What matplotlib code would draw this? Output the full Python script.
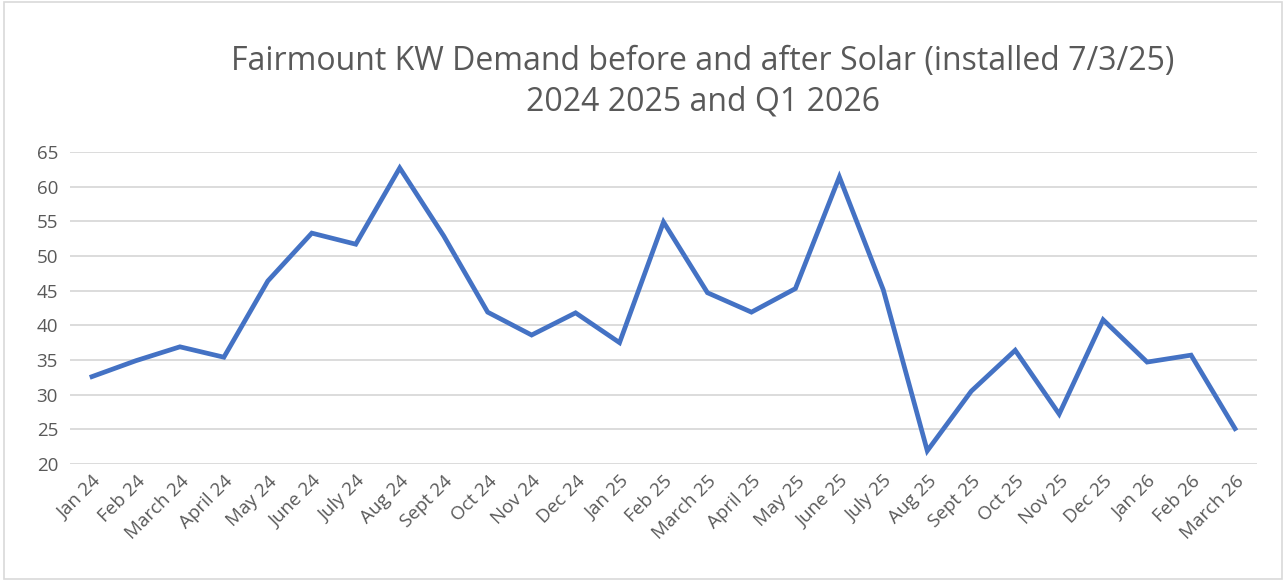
import matplotlib.pyplot as plt
from matplotlib.patches import Rectangle

# Monthly KW demand values
months = ['Jan 24', 'Feb 24', 'March 24', 'April 24', 'May 24', 'June 24',
          'July 24', 'Aug 24', 'Sept 24', 'Oct 24', 'Nov 24', 'Dec 24',
          'Jan 25', 'Feb 25', 'March 25', 'April 25', 'May 25', 'June 25',
          'July 25', 'Aug 25', 'Sept 25', 'Oct 25', 'Nov 25', 'Dec 25',
          'Jan 26', 'Feb 26', 'March 26']
kw_demand = [32.6, 34.9, 36.9, 35.4, 46.4, 53.3, 51.7, 62.7, 52.9, 41.9,
             38.6, 41.8, 37.5, 54.9, 44.7, 41.9, 45.3, 61.4, 45.1, 21.9,
             30.5, 36.4, 27.2, 40.8, 34.7, 35.7, 25.1]
y_ticks = [20, 25, 30, 35, 40, 45, 50, 55, 60, 65]

plt.rcParams['font.family'] = ['Open Sans', 'DejaVu Sans']
text_color = '#595959'

fig = plt.figure(figsize=(12.87, 5.81), dpi=100)
fig.patches.append(Rectangle((0.003, 0.004), 0.993, 0.992, transform=fig.transFigure,
                             fill=False, edgecolor='#D9D9D9', linewidth=1.2))

ax = fig.add_axes([0.0544, 0.2014, 0.9223, 0.537])
x = list(range(len(months)))
ax.plot(x, kw_demand, color='#4472C4', linewidth=3.4, solid_joinstyle='miter')

ax.set_xlim(-0.5, len(months) - 0.5)
ax.set_ylim(20, 65)
ax.set_yticks(y_ticks)
ax.set_xticks(x)
ax.set_xticklabels(months, rotation=45, ha='right', va='top', rotation_mode='anchor')
ax.tick_params(axis='both', length=0, colors=text_color, labelsize=13.5)
ax.tick_params(axis='y', pad=24)
ax.tick_params(axis='x', pad=6)
for lbl in ax.get_yticklabels():
    lbl.set_horizontalalignment('left')
ax.grid(axis='y', color='#D9D9D9', linewidth=1.3)
ax.set_axisbelow(True)
for s in ax.spines.values():
    s.set_visible(False)

fig.text(0.546, 0.86, 'Fairmount KW Demand before and after Solar (installed 7/3/25)\n2024 2025 and Q1 2026',
         ha='center', va='center', fontsize=23, color=text_color, linespacing=1.3)

fig.savefig('out.png', dpi=100)
